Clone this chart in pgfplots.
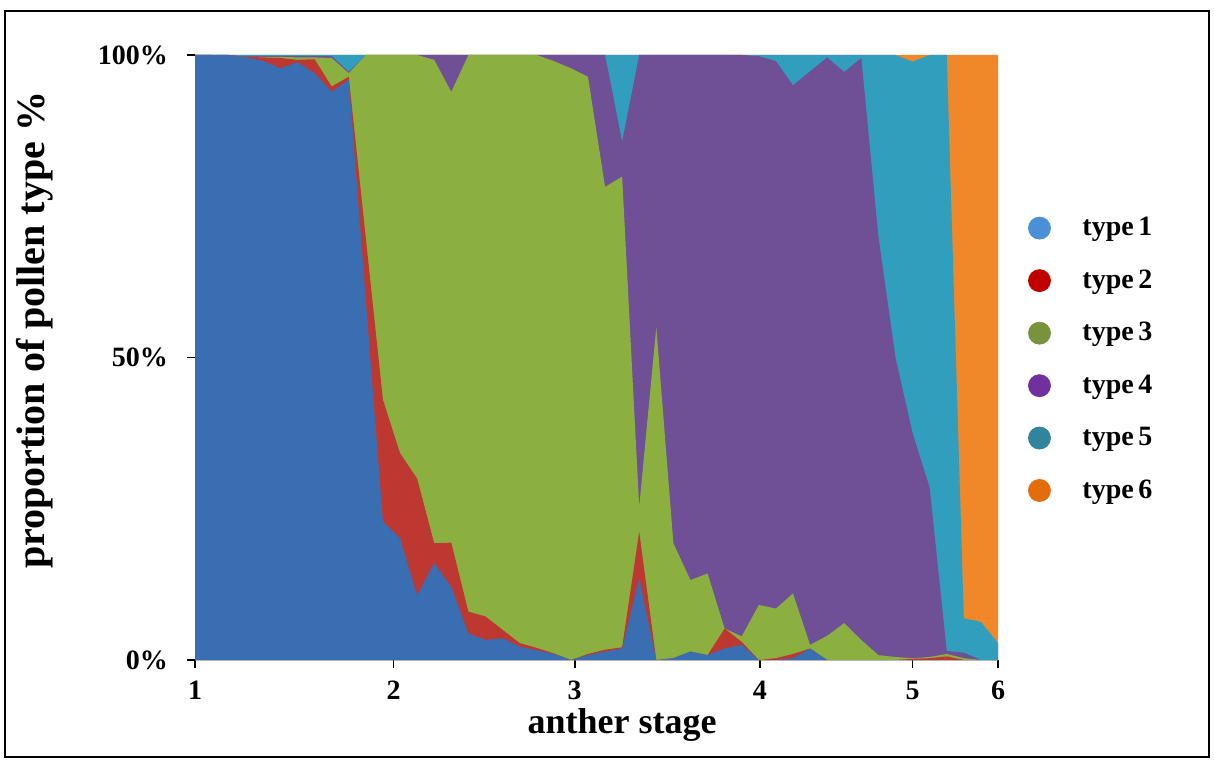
\documentclass[border=0pt]{standalone}
\usepackage{fontspec}
\setmainfont{Liberation Serif}
\usepackage{pgfplots}
\usepackage{pgfplotstable}
\pgfplotsset{compat=1.18}
\definecolor{a1}{RGB}{58,110,178}
\definecolor{a2}{RGB}{190,56,50}
\definecolor{a3}{RGB}{140,176,64}
\definecolor{a4}{RGB}{111,79,149}
\definecolor{a5}{RGB}{50,158,190}
\definecolor{a6}{RGB}{240,136,42}
\definecolor{l1}{RGB}{74,144,217}
\definecolor{l2}{RGB}{192,0,0}
\definecolor{l3}{RGB}{119,147,60}
\definecolor{l4}{RGB}{112,48,160}
\definecolor{l5}{RGB}{49,132,155}
\definecolor{l6}{RGB}{228,108,10}
% cumulative shares (%) of pollen types 1..6 at each sampled bud
\pgfplotstableread{
k  c1    c2    c3    c4    c5    c6
0  100   100   100   100   100   100
1  100   100   100   100   100   100
2  100   100   99.8  99.8  100   100
3  99.6  99.7  99.7  99.8  100   100
4  99.0  99.6  99.7  99.8  100   100
5  97.8  99.5  99.7  99.8  100   100
6  98.8  99.2  99.6  99.8  100   100
7  97.0  99.3  99.6  99.8  100   100
8  93.9  94.8  99.5  99.8  100   100
9  95.9  96.4  97.0  97.2  100   100
10 59.4  69.7  100   100   100   100
11 22.9  43.0  100   100   100   100
12 20.1  34.2  100   100   100   100
13 10.7  30.0  100   100   100   100
14 16.0  19.3  99.2  100   100   100
15 12.1  19.4  93.9  100   100   100
16 4.4   8.0   100   100   100   100
17 3.3   7.2   100   100   100   100
18 3.6   5.0   100   100   100   100
19 2.2   2.8   100   100   100   100
20 1.6   2.0   100   100   100   100
21 1.0   1.1   99.0  100   100   100
22 0     0     97.8  100   100   100
23 0.8   1.0   96.4  100   100   100
24 1.4   1.7   78.2  100   100   100
25 1.9   2.1   79.9  85.7  100   100
26 13.5  21.2  25.3  100   100   100
27 0     0     55.0  100   100   100
28 0.3   0.3   19.3  100   100   100
29 1.4   1.4   13.2  100   100   100
30 0.8   0.8   14.3  100   100   100
31 1.9   5.2   5.2   100   100   100
32 2.5   3.0   3.9   100   100   100
33 0     0     9.1   99.8  100   100
34 0     0.3   8.5   99.0  100   100
35 0.3   1.0   11.0  95.0  100   100
36 1.9   1.9   2.5   97.3  100   100
37 0     0     4.0   99.6  100   100
38 0     0     6.1   97.2  100   100
39 0     0     3.3   99.5  100   100
40 0     0     0.8   70.0  100   100
41 0     0     0.5   50.0  100   100
42 0     0.2   0.3   37.5  98.9  100
43 0     0.3   0.5   28.5  100   100
44 0     0.6   1.0   1.5   100   100
45 0     0     0.3   1.2   6.9   100
46 0     0     0     0     6.3   100
47 0     0     0     0     2.8   100
}\cum
\begin{document}
\begin{tikzpicture}
\useasboundingbox (0,0) rectangle (607pt,380pt);
\draw[line width=1.2pt] (2.5pt,1.5pt) rectangle (604.5pt,374.5pt);
\begin{axis}[
  at={(97.5pt,50pt)}, anchor=south west,
  scale only axis, width=401.5pt, height=302.5pt,
  xmin=0, xmax=47, ymin=0, ymax=100,
  axis x line*=bottom, axis y line*=left,
  axis line style={draw=none},
  xtick={0,11.62,22.22,33.06,42,47},
  xticklabels={1,2,3,4,5,6},
  ytick={0,50,100},
  yticklabels={0\%,50\%,100\%},
  tick align=outside,
  major tick length=4pt,
  tick style={black,line width=0.9pt},
  /pgf/number format/assume math mode=true,
  ticklabel style={font=\bfseries\fontsize{14}{14}\selectfont},
  yticklabel style={xshift=-6pt},
  xticklabel style={yshift=-3pt},
  xlabel={anther stage},
  ylabel={proportion of pollen type \%},
  xlabel style={font=\bfseries\fontsize{18}{18}\selectfont,
    at={(axis description cs:0.532,-0.107)}, anchor=center},
  ylabel style={font=\bfseries\fontsize{20}{20}\selectfont,
    at={(axis description cs:-0.199,0.545)}, anchor=center, rotate=0},
  legend style={at={(1.030,0.497)}, anchor=west, draw=none, fill=none,
    font=\bfseries\fontsize{14}{14}\selectfont, row sep=11.5pt},
  legend cell align=left,
  legend image code/.code={%
    \path[draw=none,fill=none] (-5.5pt,-0.5pt) rectangle (19.5pt,0.5pt);
    \draw[#1] plot coordinates {(0pt,0pt)};},
]
\addplot[fill=a6, draw=none, forget plot] table[x=k, y=c6] {\cum} \closedcycle;
\addplot[fill=a5, draw=none, forget plot] table[x=k, y=c5] {\cum} \closedcycle;
\addplot[fill=a4, draw=none, forget plot] table[x=k, y=c4] {\cum} \closedcycle;
\addplot[fill=a3, draw=none, forget plot] table[x=k, y=c3] {\cum} \closedcycle;
\addplot[fill=a2, draw=none, forget plot] table[x=k, y=c2] {\cum} \closedcycle;
\addplot[fill=a1, draw=none, forget plot] table[x=k, y=c1] {\cum} \closedcycle;
\addlegendimage{only marks, mark=*, mark size=5.5pt, color=l1}
\addlegendimage{only marks, mark=*, mark size=5.5pt, color=l2}
\addlegendimage{only marks, mark=*, mark size=5.5pt, color=l3}
\addlegendimage{only marks, mark=*, mark size=5.5pt, color=l4}
\addlegendimage{only marks, mark=*, mark size=5.5pt, color=l5}
\addlegendimage{only marks, mark=*, mark size=5.5pt, color=l6}
\legend{type\,1,type\,2,type\,3,type\,4,type\,5,type\,6}
\end{axis}
\end{tikzpicture}
\end{document}
